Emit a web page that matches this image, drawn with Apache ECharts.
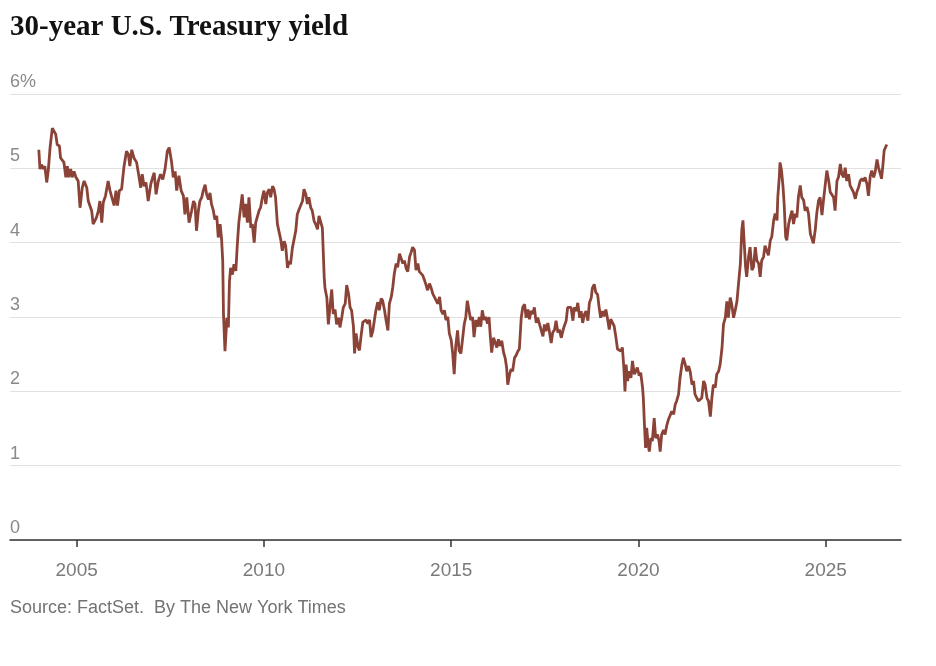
<!DOCTYPE html>
<html>
<head>
<meta charset="utf-8">
<title>30-year U.S. Treasury yield</title>
<script src="https://cdn.jsdelivr.net/npm/echarts@6/dist/echarts.min.js"></script>
<style>
  html, body { margin: 0; padding: 0; background: #fff; }
  #main { width: 936px; height: 666px; }
</style>
</head>
<body>
<div id="main"></div>
<script>
// dates as decimal years, yields in percent
var dates = [
  2003.99, 2004.02, 2004.06, 2004.11, 2004.15, 2004.20, 2004.24, 2004.29, 2004.35, 2004.39,
  2004.44, 2004.48, 2004.54, 2004.57, 2004.62, 2004.66, 2004.71, 2004.75, 2004.79, 2004.84,
  2004.88, 2004.93, 2004.98, 2005.04, 2005.09, 2005.15, 2005.20, 2005.27, 2005.31, 2005.36,
  2005.40, 2005.44, 2005.49, 2005.53, 2005.58, 2005.62, 2005.67, 2005.71, 2005.77, 2005.84,
  2005.89, 2005.93, 2006.00, 2006.05, 2006.09, 2006.14, 2006.20, 2006.26, 2006.33, 2006.38,
  2006.42, 2006.47, 2006.53, 2006.60, 2006.66, 2006.71, 2006.75, 2006.80, 2006.85, 2006.91,
  2006.98, 2007.03, 2007.07, 2007.12, 2007.18, 2007.24, 2007.30, 2007.36, 2007.42, 2007.47,
  2007.53, 2007.58, 2007.63, 2007.67, 2007.73, 2007.79, 2007.85, 2007.89, 2007.94, 2008.00,
  2008.03, 2008.07, 2008.12, 2008.16, 2008.20, 2008.25, 2008.29, 2008.34, 2008.38, 2008.43,
  2008.47, 2008.52, 2008.56, 2008.60, 2008.65, 2008.69, 2008.74, 2008.78, 2008.83, 2008.87,
  2008.90, 2008.92, 2008.96, 2009.01, 2009.05, 2009.08, 2009.11, 2009.16, 2009.20, 2009.25,
  2009.29, 2009.33, 2009.38, 2009.42, 2009.47, 2009.51, 2009.56, 2009.60, 2009.65, 2009.69,
  2009.74, 2009.78, 2009.82, 2009.87, 2009.91, 2009.96, 2010.00, 2010.05, 2010.09, 2010.14,
  2010.18, 2010.23, 2010.27, 2010.31, 2010.36, 2010.40, 2010.45, 2010.49, 2010.54, 2010.58,
  2010.63, 2010.67, 2010.71, 2010.76, 2010.80, 2010.85, 2010.89, 2010.94, 2010.98, 2011.03,
  2011.07, 2011.12, 2011.16, 2011.20, 2011.25, 2011.29, 2011.34, 2011.38, 2011.43, 2011.47,
  2011.52, 2011.56, 2011.61, 2011.63, 2011.68, 2011.72, 2011.77, 2011.81, 2011.85, 2011.90,
  2011.94, 2011.99, 2012.03, 2012.08, 2012.12, 2012.17, 2012.21, 2012.26, 2012.30, 2012.34,
  2012.39, 2012.42, 2012.46, 2012.51, 2012.55, 2012.59, 2012.64, 2012.68, 2012.73, 2012.77,
  2012.82, 2012.86, 2012.91, 2012.95, 2012.99, 2013.04, 2013.08, 2013.13, 2013.17, 2013.22,
  2013.26, 2013.31, 2013.35, 2013.40, 2013.44, 2013.48, 2013.53, 2013.57, 2013.62, 2013.66,
  2013.71, 2013.75, 2013.80, 2013.84, 2013.89, 2013.93, 2013.97, 2014.02, 2014.06, 2014.11,
  2014.15, 2014.20, 2014.24, 2014.29, 2014.33, 2014.37, 2014.42, 2014.46, 2014.51, 2014.55,
  2014.60, 2014.64, 2014.69, 2014.73, 2014.78, 2014.82, 2014.86, 2014.91, 2014.95, 2015.00,
  2015.04, 2015.08, 2015.12, 2015.17, 2015.21, 2015.26, 2015.30, 2015.35, 2015.39, 2015.43,
  2015.48, 2015.52, 2015.57, 2015.61, 2015.66, 2015.70, 2015.75, 2015.79, 2015.83, 2015.88,
  2015.92, 2015.97, 2016.01, 2016.04, 2016.08, 2016.13, 2016.17, 2016.22, 2016.26, 2016.31,
  2016.35, 2016.40, 2016.44, 2016.48, 2016.51, 2016.56, 2016.60, 2016.64, 2016.69, 2016.73,
  2016.78, 2016.82, 2016.87, 2016.91, 2016.96, 2017.00, 2017.05, 2017.09, 2017.13, 2017.18,
  2017.22, 2017.27, 2017.31, 2017.36, 2017.40, 2017.45, 2017.49, 2017.53, 2017.58, 2017.62,
  2017.67, 2017.71, 2017.76, 2017.80, 2017.85, 2017.89, 2017.94, 2017.98, 2018.02, 2018.07,
  2018.11, 2018.16, 2018.20, 2018.25, 2018.29, 2018.34, 2018.38, 2018.43, 2018.47, 2018.51,
  2018.56, 2018.60, 2018.65, 2018.69, 2018.74, 2018.77, 2018.82, 2018.86, 2018.91, 2018.95,
  2018.99, 2019.04, 2019.08, 2019.13, 2019.17, 2019.22, 2019.26, 2019.31, 2019.35, 2019.40,
  2019.44, 2019.48, 2019.53, 2019.57, 2019.61, 2019.64, 2019.67, 2019.71, 2019.75, 2019.80,
  2019.84, 2019.89, 2019.93, 2019.97, 2020.02, 2020.06, 2020.11, 2020.13, 2020.16, 2020.19,
  2020.22, 2020.26, 2020.29, 2020.33, 2020.37, 2020.42, 2020.46, 2020.51, 2020.55, 2020.58,
  2020.62, 2020.67, 2020.71, 2020.76, 2020.80, 2020.85, 2020.89, 2020.94, 2020.98, 2021.02,
  2021.07, 2021.11, 2021.16, 2021.20, 2021.25, 2021.29, 2021.34, 2021.38, 2021.43, 2021.47,
  2021.51, 2021.56, 2021.60, 2021.65, 2021.69, 2021.74, 2021.78, 2021.83, 2021.87, 2021.92,
  2021.96, 2022.00, 2022.05, 2022.09, 2022.14, 2022.18, 2022.23, 2022.27, 2022.32, 2022.36,
  2022.40, 2022.45, 2022.49, 2022.54, 2022.58, 2022.63, 2022.67, 2022.72, 2022.76, 2022.79,
  2022.82, 2022.86, 2022.89, 2022.94, 2022.98, 2023.03, 2023.07, 2023.12, 2023.16, 2023.21,
  2023.25, 2023.29, 2023.34, 2023.38, 2023.43, 2023.47, 2023.52, 2023.56, 2023.61, 2023.65,
  2023.70, 2023.72, 2023.76, 2023.78, 2023.82, 2023.86, 2023.89, 2023.93, 2023.96, 2024.01,
  2024.05, 2024.10, 2024.14, 2024.19, 2024.23, 2024.27, 2024.32, 2024.36, 2024.41, 2024.45,
  2024.50, 2024.54, 2024.59, 2024.63, 2024.67, 2024.72, 2024.76, 2024.81, 2024.85, 2024.90,
  2024.94, 2024.99, 2025.03, 2025.08, 2025.12, 2025.16, 2025.21, 2025.25, 2025.30, 2025.34,
  2025.39, 2025.43, 2025.48, 2025.52, 2025.56, 2025.61, 2025.65, 2025.70, 2025.74, 2025.79,
  2025.83, 2025.88, 2025.92, 2025.97, 2026.01, 2026.05, 2026.10, 2026.14, 2026.19, 2026.23,
  2026.28, 2026.32, 2026.37, 2026.41, 2026.46, 2026.49, 2026.53, 2026.56, 2026.60, 2026.63
];

var yields = [
  5.25, 4.99, 5.05, 4.99, 5.03, 4.81, 4.96, 5.28, 5.54, 5.52,
  5.46, 5.32, 5.30, 5.14, 5.12, 5.08, 4.88, 5.03, 4.88, 4.99,
  4.88, 4.96, 4.88, 4.83, 4.47, 4.74, 4.83, 4.74, 4.56, 4.58,
  4.43, 4.25, 4.23, 4.34, 4.43, 4.56, 4.27, 4.54, 4.63, 4.83,
  4.70, 4.72, 4.50, 4.70, 4.50, 4.70, 4.72, 5.01, 5.23, 5.19,
  5.03, 5.25, 5.14, 5.08, 4.90, 4.74, 4.92, 4.76, 4.81, 4.56,
  4.79, 4.88, 4.94, 4.65, 4.83, 4.92, 4.85, 4.99, 5.23, 5.28,
  5.10, 4.88, 4.96, 4.70, 4.90, 4.70, 4.63, 4.38, 4.61, 4.27,
  4.25, 4.43, 4.56, 4.52, 4.16, 4.43, 4.56, 4.61, 4.70, 4.78,
  4.65, 4.58, 4.67, 4.52, 4.43, 4.31, 4.36, 4.07, 4.25, 4.04,
  3.75, 3.04, 2.54, 2.99, 2.86, 3.48, 3.66, 3.57, 3.71, 3.62,
  3.98, 4.27, 4.29, 4.65, 4.34, 4.52, 4.27, 4.61, 4.20, 4.25,
  4.00, 4.27, 4.25, 4.43, 4.47, 4.61, 4.70, 4.52, 4.67, 4.72,
  4.61, 4.76, 4.72, 4.61, 4.25, 4.25, 4.04, 3.89, 4.02, 3.96,
  3.66, 3.75, 3.71, 3.93, 3.91, 4.16, 4.38, 4.45, 4.47, 4.56,
  4.72, 4.65, 4.52, 4.61, 4.47, 4.43, 4.29, 4.25, 4.18, 4.36,
  4.34, 4.20, 3.53, 3.39, 3.26, 2.90, 3.17, 3.37, 3.04, 3.10,
  2.90, 2.99, 2.86, 3.00, 3.13, 3.18, 3.43, 3.31, 3.13, 3.09,
  2.87, 2.51, 2.78, 2.60, 2.55, 2.73, 2.93, 2.91, 2.96, 2.91,
  2.96, 2.73, 2.82, 2.96, 3.09, 3.20, 3.09, 3.25, 3.22, 3.09,
  2.96, 2.82, 3.18, 3.27, 3.40, 3.58, 3.72, 3.67, 3.85, 3.83,
  3.72, 3.76, 3.65, 3.61, 3.81, 3.87, 3.94, 3.90, 3.63, 3.72,
  3.61, 3.63, 3.56, 3.49, 3.43, 3.36, 3.45, 3.40, 3.31, 3.27,
  3.29, 3.18, 3.27, 3.09, 3.04, 3.09, 2.96, 3.00, 2.78, 2.69,
  2.51, 2.23, 2.60, 2.82, 2.55, 2.51, 2.69, 2.91, 3.00, 3.22,
  3.22, 2.96, 3.00, 2.73, 2.96, 2.87, 3.00, 2.87, 3.09, 2.96,
  3.00, 2.91, 3.00, 2.77, 2.52, 2.72, 2.74, 2.59, 2.70, 2.61,
  2.68, 2.52, 2.45, 2.32, 2.09, 2.23, 2.30, 2.27, 2.45, 2.48,
  2.54, 2.57, 2.99, 3.13, 3.17, 2.99, 3.10, 2.97, 3.08, 3.04,
  3.13, 2.92, 2.99, 2.90, 2.88, 2.74, 2.90, 2.81, 2.92, 2.81,
  2.65, 2.79, 2.83, 2.95, 2.79, 2.83, 2.72, 2.81, 2.88, 2.95,
  3.13, 3.15, 3.13, 2.95, 3.13, 3.08, 3.19, 2.99, 3.08, 2.92,
  3.04, 3.08, 2.95, 3.19, 3.26, 3.39, 3.44, 3.33, 3.30, 3.13,
  2.99, 3.08, 3.01, 3.10, 2.99, 2.83, 2.97, 2.95, 2.88, 2.72,
  2.57, 2.59, 2.54, 2.59, 2.32, 2.00, 2.36, 2.14, 2.27, 2.18,
  2.41, 2.23, 2.27, 2.32, 2.21, 2.25, 2.05, 1.91, 1.55, 1.24,
  1.51, 1.28, 1.19, 1.37, 1.33, 1.64, 1.37, 1.42, 1.33, 1.19,
  1.42, 1.48, 1.42, 1.55, 1.62, 1.60, 1.73, 1.69, 1.82, 1.87,
  1.96, 2.18, 2.36, 2.45, 2.36, 2.27, 2.34, 2.27, 2.09, 2.14,
  1.96, 1.91, 1.87, 1.89, 1.91, 2.14, 2.09, 1.91, 1.87, 1.66,
  1.91, 2.09, 2.05, 2.23, 2.27, 2.36, 2.58, 2.90, 2.99, 3.21,
  2.99, 3.26, 3.17, 2.99, 3.08, 3.21, 3.44, 3.71, 4.17, 4.30,
  4.03, 3.67, 3.54, 3.81, 3.94, 3.63, 3.67, 3.94, 3.76, 3.72,
  3.54, 3.76, 3.81, 3.96, 3.94, 3.83, 4.03, 4.08, 4.30, 4.39,
  4.30, 4.61, 4.88, 5.08, 4.97, 4.75, 4.52, 4.08, 4.03, 4.25,
  4.34, 4.43, 4.25, 4.39, 4.34, 4.61, 4.77, 4.61, 4.57, 4.43,
  4.48, 4.39, 4.12, 4.10, 3.99, 4.17, 4.39, 4.57, 4.61, 4.37,
  4.57, 4.79, 4.97, 4.83, 4.68, 4.66, 4.61, 4.43, 4.83, 4.88,
  5.06, 4.92, 4.88, 5.01, 4.83, 4.92, 4.77, 4.79, 4.68, 4.59,
  4.68, 4.75, 4.83, 4.86, 4.83, 4.88, 4.79, 4.63, 4.90, 4.97,
  4.88, 4.95, 5.12, 5.01, 4.92, 4.86, 5.06, 5.24, 5.26, 5.32
];

var yearTicks = [2005, 2010, 2015, 2020, 2025];
var yTickLabels = ['0', '1', '2', '3', '4', '5', '6%'];

var lineColor = '#8a4336';
var sansFont = '"Liberation Sans", Arial, sans-serif';

var chart = echarts.init(document.getElementById('main'));

var seriesData = dates.map(function (d, i) {
  return [d, yields[i]];
});

var option = {
  animation: false,
  title: [
    {
      text: '30-year U.S. Treasury yield',
      left: 10,
      top: 13,
      padding: 0,
      textStyle: {
        fontFamily: '"Liberation Serif", "DejaVu Serif", serif',
        fontWeight: 'bold',
        fontSize: 29,
        color: '#121212'
      }
    },
    {
      text: 'Source: FactSet.  By The New York Times',
      left: 10,
      top: 599,
      padding: 0,
      textStyle: {
        fontFamily: sansFont,
        fontWeight: 'normal',
        fontSize: 18,
        color: '#737373'
      }
    }
  ],
  grid: {
    left: 10,
    right: 35,
    top: 94,
    bottom: 126
  },
  xAxis: {
    type: 'value',
    min: 2003.22,
    max: 2027.01,
    splitLine: { show: false },
    axisLine: { lineStyle: { color: '#333', width: 1.5 } },
    axisTick: {
      customValues: yearTicks,
      length: 7,
      lineStyle: { color: '#333', width: 1.5 }
    },
    axisLabel: {
      customValues: yearTicks,
      margin: 21,
      fontFamily: sansFont,
      fontSize: 19,
      color: '#7a7a7a',
      formatter: function (v) {
        return String(v);
      }
    }
  },
  yAxis: {
    type: 'value',
    min: 0,
    max: 6,
    interval: 1,
    axisLine: { show: false },
    axisTick: { show: false },
    splitLine: { lineStyle: { color: '#e1e1e1', width: 1 } },
    axisLabel: {
      inside: true,
      margin: 0,
      verticalAlign: 'bottom',
      padding: [0, 0, 3, 0],
      fontFamily: sansFont,
      fontSize: 18,
      color: '#8a8a8a',
      formatter: function (v) {
        return yTickLabels[v];
      }
    }
  },
  series: [
    {
      type: 'line',
      data: seriesData,
      showSymbol: false,
      lineStyle: { color: lineColor, width: 2.8 },
      z: 3
    }
  ]
};

chart.setOption(option);
</script>
</body>
</html>
